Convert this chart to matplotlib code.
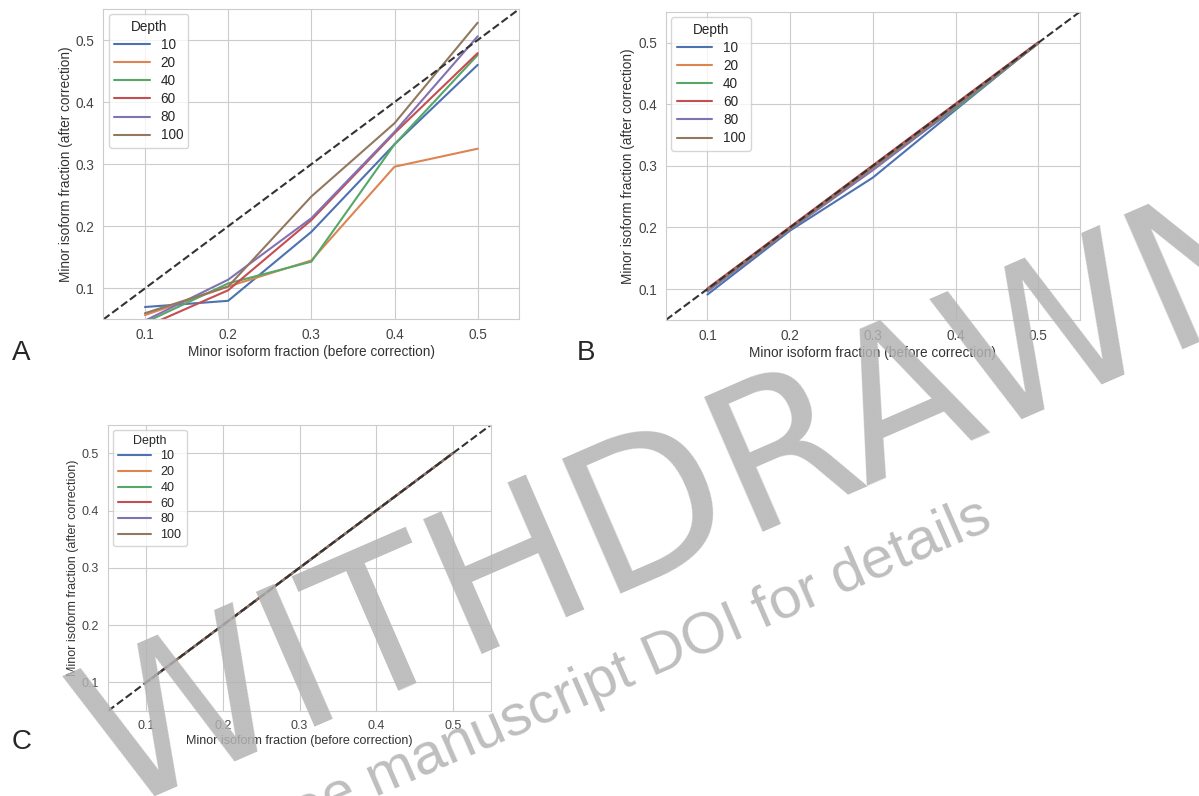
import numpy as np
import matplotlib
matplotlib.use("Agg")
import matplotlib.pyplot as plt
import seaborn as sns

sns.set_style("whitegrid")
plt.rcParams['font.family'] = ['Liberation Sans', 'DejaVu Sans']

fraction = [0.1, 0.2, 0.3, 0.4, 0.5]
depths = [10, 20, 40, 60, 80, 100]

# corrected minor isoform fraction per depth, before EM correction (A)
a_10 = [0.070, 0.080, 0.191, 0.332, 0.460]
a_20 = [0.057, 0.103, 0.145, 0.296, 0.325]
a_40 = [0.045, 0.108, 0.143, 0.332, 0.476]
a_60 = [0.038, 0.097, 0.210, 0.350, 0.479]
a_80 = [0.048, 0.114, 0.213, 0.352, 0.506]
a_100 = [0.060, 0.103, 0.248, 0.366, 0.528]

# B
b_10 = [0.091, 0.195, 0.281, 0.391, 0.500]
b_20 = [0.099, 0.200, 0.300, 0.400, 0.500]
b_40 = [0.097, 0.198, 0.298, 0.393, 0.499]
b_60 = [0.101, 0.201, 0.301, 0.401, 0.501]
b_80 = [0.096, 0.197, 0.293, 0.395, 0.499]
b_100 = [0.098, 0.198, 0.297, 0.397, 0.499]

# C
c_10 = [0.1, 0.2, 0.3, 0.4, 0.5]
c_20 = [0.1, 0.2, 0.3, 0.4, 0.5]
c_40 = [0.1, 0.2, 0.3, 0.4, 0.5]
c_60 = [0.1, 0.2, 0.3, 0.4, 0.5]
c_80 = [0.1, 0.2, 0.3, 0.4, 0.5]
c_100 = [0.1, 0.2, 0.3, 0.4, 0.5]

ticks = [0.1, 0.2, 0.3, 0.4, 0.5]
tick_labels = ['0.1', '0.2', '0.3', '0.4', '0.5']

panels = {
    'A': [a_10, a_20, a_40, a_60, a_80, a_100],
    'B': [b_10, b_20, b_40, b_60, b_80, b_100],
    'C': [c_10, c_20, c_40, c_60, c_80, c_100],
}

palette = sns.color_palette("deep")

my_dpi = 100
fig = plt.figure(figsize=(1199/my_dpi, 796/my_dpi), dpi=my_dpi)

boxes = {
    'A': [0.0862, 0.5987, 0.3469, 0.3900],
    'B': [0.5555, 0.5982, 0.3450, 0.3868],
    'C': [0.0901, 0.1069, 0.3194, 0.3595],
}
font_sizes = {'A': 9.8, 'B': 9.8, 'C': 9.0}
label_pos = {'A': (0.018, 0.556), 'B': (0.489, 0.556), 'C': (0.018, 0.068)}

for name in ['A', 'B', 'C']:
    ax = fig.add_axes(boxes[name])
    fs = font_sizes[name]
    for i, d in enumerate(depths):
        ax.plot(fraction, panels[name][i], color=palette[i], lw=1.5, label=str(d))
    ax.axline((0, 0), slope=1, color='#333333', linestyle='--', lw=1.5)
    ax.set_xlim(0.05, 0.55)
    ax.set_ylim(0.05, 0.55)
    ax.set_xticks(ticks)
    ax.set_xticklabels(tick_labels)
    ax.set_yticks(ticks)
    ax.set_yticklabels(tick_labels)
    ax.tick_params(labelsize=fs, colors='#444444', pad=3)
    ax.set_xlabel('Minor isoform fraction (before correction)', fontsize=fs, color='#333333', labelpad=2)
    ax.set_ylabel('Minor isoform fraction (after correction)', fontsize=fs, color='#333333', labelpad=2)
    for s in ax.spines.values():
        s.set_color('#cccccc')
    leg = ax.legend(title='Depth', loc='upper left', fontsize=fs, title_fontsize=fs,
                    handlelength=2.6, labelspacing=0.3, borderaxespad=0.4)
    fig.text(label_pos[name][0], label_pos[name][1], name, fontsize=20, ha='center', va='center')

# retraction stamp across the page, anchored at the baseline start
stamp = (0.7, 0.7, 0.7)
fig.text(114/1199, 1 - 812/796, 'WITHDRAWN', fontsize=145, family='DejaVu Sans', rotation=23.5,
         color=stamp, alpha=0.85, ha='left', va='baseline', rotation_mode='anchor')
fig.text(265/1199, 1 - 845/796, 'See manuscript DOI for details', fontsize=42, rotation=23.5,
         color=stamp, alpha=0.85, ha='left', va='baseline', rotation_mode='anchor')

plt.savefig('out.png', dpi=my_dpi)
